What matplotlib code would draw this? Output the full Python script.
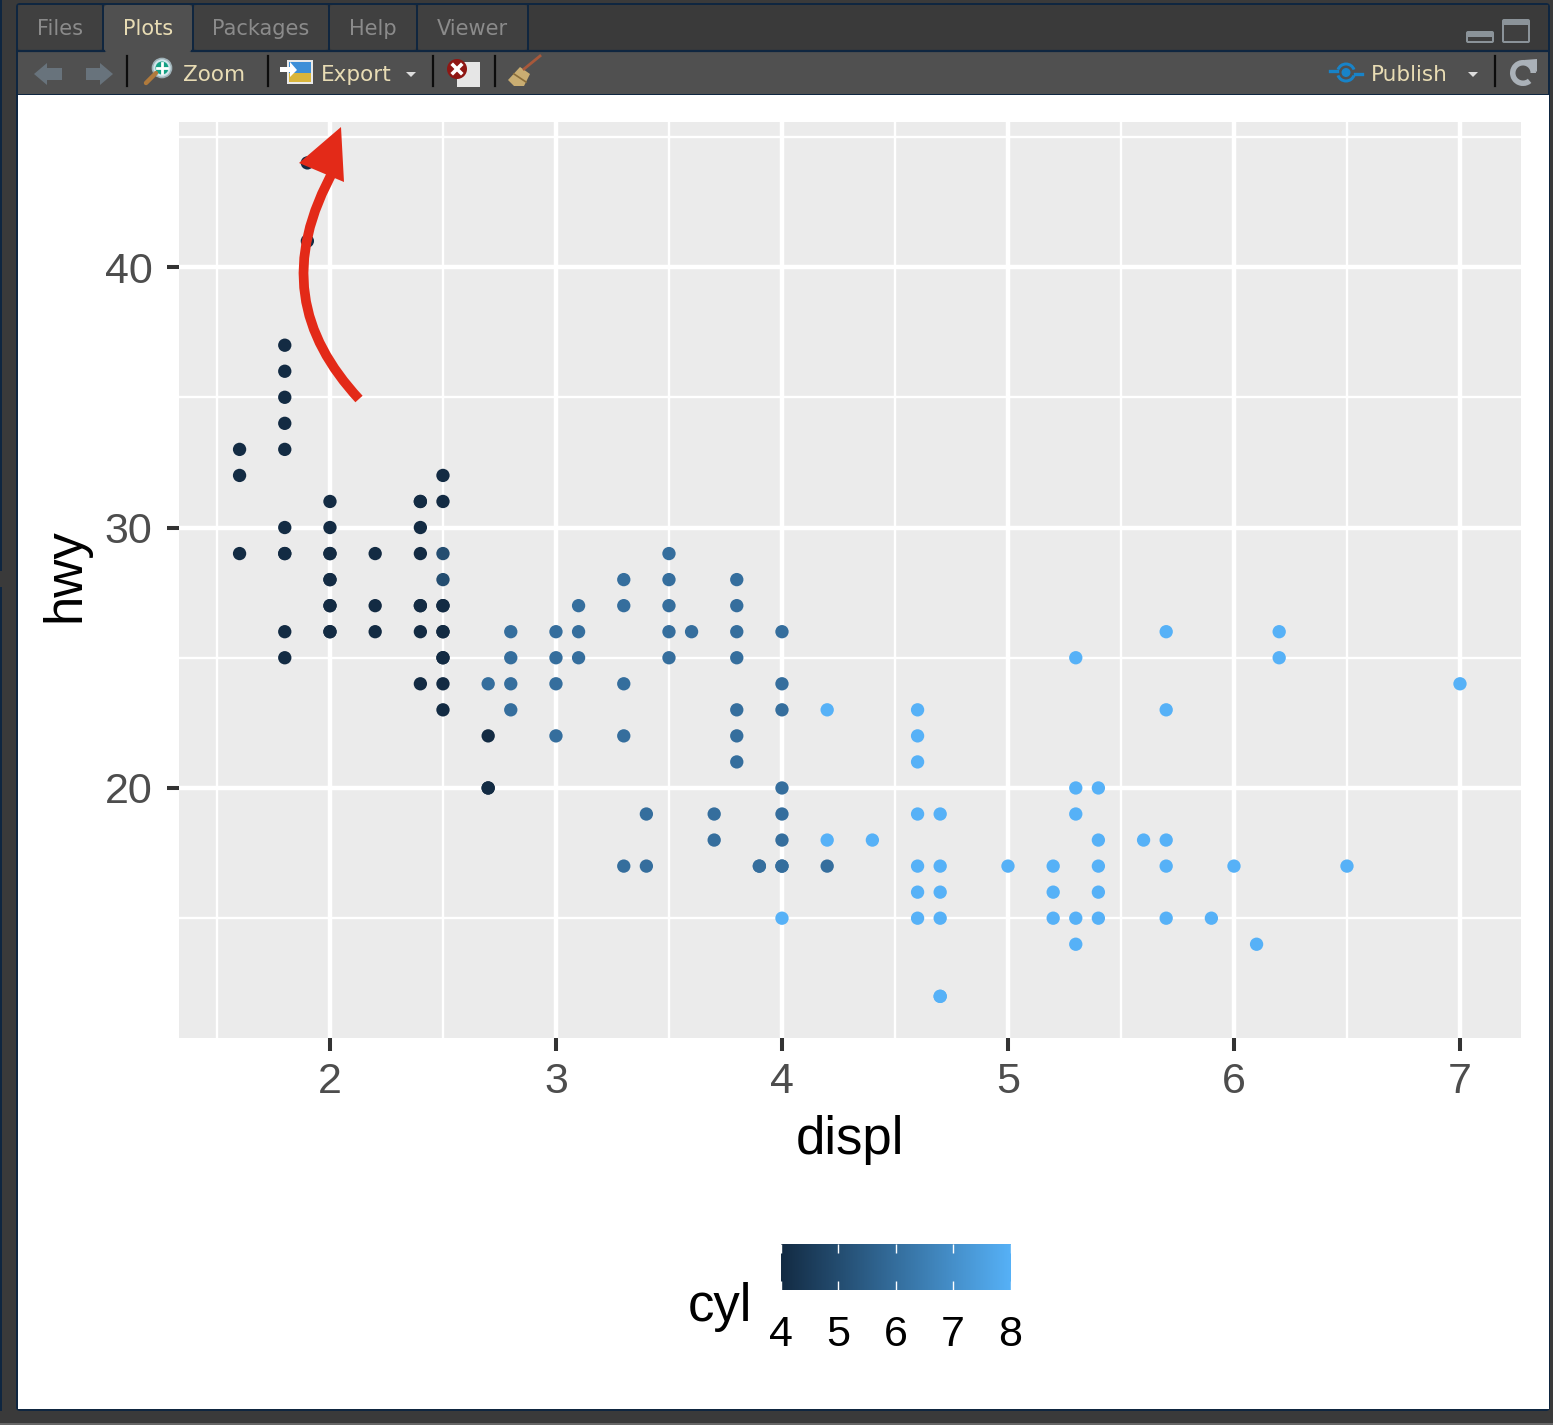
import numpy as np
import matplotlib
matplotlib.use("Agg")
import matplotlib.pyplot as plt
from matplotlib.colors import LinearSegmentedColormap
from matplotlib.patches import Rectangle, Polygon, Circle, FancyBboxPatch, PathPatch, Wedge
from matplotlib.path import Path

W, H = 1553, 1425

# points, repeated where a dot looks overplotted
displ_4 = [1.6, 1.6, 1.6, 1.8, 1.8, 1.8, 1.8, 1.8, 1.8, 1.8, 1.8, 1.8, 1.8, 1.9, 1.9,
           2.0, 2.0, 2.0, 2.0, 2.0, 2.0, 2.0, 2.0, 2.0, 2.0, 2.2, 2.2, 2.2,
           2.4, 2.4, 2.4, 2.4, 2.4, 2.4, 2.4, 2.4,
           2.5, 2.5, 2.5, 2.5, 2.5, 2.5, 2.5, 2.5, 2.5, 2.5, 2.7, 2.7, 2.7]
hwy_4 = [33, 32, 29, 37, 36, 35, 34, 33, 30, 29, 29, 26, 25, 44, 41,
         31, 30, 29, 29, 28, 28, 27, 27, 26, 26, 29, 27, 26,
         31, 31, 30, 29, 27, 27, 26, 24,
         32, 31, 27, 27, 26, 26, 25, 25, 24, 23, 22, 20, 20]
displ_5 = [2.5, 2.5]
hwy_5 = [29, 28]
displ_6 = [2.7, 2.8, 2.8, 2.8, 2.8, 3.0, 3.0, 3.0, 3.0, 3.1, 3.1, 3.1,
           3.3, 3.3, 3.3, 3.3, 3.3, 3.4, 3.4, 3.5, 3.5, 3.5, 3.5, 3.5, 3.6,
           3.7, 3.7, 3.8, 3.8, 3.8, 3.8, 3.8, 3.8, 3.8, 3.9, 3.9,
           4.0, 4.0, 4.0, 4.0, 4.0, 4.0, 4.0, 4.0, 4.2]
hwy_6 = [24, 26, 25, 24, 23, 26, 25, 24, 22, 27, 26, 25,
         28, 27, 24, 22, 17, 19, 17, 29, 28, 27, 26, 25, 26,
         19, 18, 28, 27, 26, 25, 23, 22, 21, 17, 17,
         26, 24, 23, 20, 19, 18, 17, 17, 17]
displ_8 = [4.0, 4.2, 4.2, 4.4, 4.6, 4.6, 4.6, 4.6, 4.6, 4.6, 4.6,
           4.7, 4.7, 4.7, 4.7, 4.7, 4.7, 5.0, 5.2, 5.2, 5.2,
           5.3, 5.3, 5.3, 5.3, 5.3, 5.4, 5.4, 5.4, 5.4, 5.4,
           5.6, 5.7, 5.7, 5.7, 5.7, 5.7, 5.9, 6.0, 6.1, 6.2, 6.2, 6.5, 7.0]
hwy_8 = [15, 23, 18, 18, 23, 22, 21, 19, 17, 16, 15,
         19, 17, 16, 15, 12, 12, 17, 17, 16, 15,
         25, 20, 19, 15, 14, 20, 18, 17, 16, 15,
         18, 26, 23, 18, 17, 15, 15, 17, 14, 26, 25, 17, 24]

x_ticks = [2, 3, 4, 5, 6, 7]
x_minor = [1.5, 2.5, 3.5, 4.5, 5.5, 6.5]
y_ticks = [20, 30, 40]
y_minor = [15, 25, 35, 45]
cyl_ticks = [4, 5, 6, 7, 8]

tab_names = ["Files", "Plots", "Packages", "Help", "Viewer"]
tab_edges = [(18, 102), (104, 192), (194, 328), (330, 416), (418, 527)]
separators = [127, 268, 433, 495, 1495]

NAVY = "#0f2640"
WIN = "#3a3a3a"
BAR = "#505050"
CREAM = "#e8dcb4"
GREY_TXT = "#8b8b8b"
ICON = "#68737c"

cmap = LinearSegmentedColormap.from_list("gg", ["#132B43", "#56B1F7"])

fig = plt.figure(figsize=(W / 100, H / 100), dpi=100, facecolor=WIN)
plt.rcParams["font.family"] = ["Liberation Sans", "DejaVu Sans"]


def px_axes(x0, y0, x1, y1, **kw):
    return fig.add_axes([x0 / W, 1 - y1 / H, (x1 - x0) / W, (y1 - y0) / H], **kw)


# ---------- window chrome, in pixels ----------
ui = fig.add_axes([0, 0, 1, 1], zorder=0)
ui.set_xlim(0, W)
ui.set_ylim(H, 0)
ui.axis("off")

ui.add_patch(Rectangle((0, 0), 2, 571, color=NAVY, lw=0))
ui.add_patch(Rectangle((0, 587), 2, 824, color=NAVY, lw=0))
ui.add_patch(Rectangle((0, 1423), W, 2, color="#666666", lw=0))
ui.add_patch(FancyBboxPatch((16, 3), 1534, 1408, boxstyle="round,pad=0,rounding_size=4",
                            fc=NAVY, ec="none"))
ui.add_patch(Rectangle((18, 5), 1530, 45, color=WIN, lw=0))
ui.add_patch(Rectangle((18, 52), 1530, 42, color=BAR, lw=0))
ui.add_patch(Rectangle((18, 95), 1531, 1314, color="white", lw=0))

for name, (a, b) in zip(tab_names, tab_edges):
    active = name == "Plots"
    bottom = 52 if active else 50
    ui.add_patch(FancyBboxPatch((a, 5), b - a, bottom - 5, boxstyle="round,pad=0,rounding_size=3",
                                fc=BAR if active else "#404040", ec="none"))
    ui.text((a + b) / 2, 29, name, color=CREAM if active else GREY_TXT, ha="center", va="center",
            fontsize=15, family="DejaVu Sans")
for a, b in zip(tab_edges[:-1], tab_edges[1:]):
    ui.plot([a[1] + 1, a[1] + 1], [5, 50], color=NAVY, lw=1.4)
ui.plot([527.5, 527.5], [5, 50], color=NAVY, lw=1.4)
ui.plot([18, 104], [51, 51], color=NAVY, lw=1.6)
ui.plot([192, 1548], [51, 51], color=NAVY, lw=1.6)

for sx in separators:
    ui.plot([sx, sx], [56, 86], color="#0c0c0c", lw=1.6)

# nav arrows
ui.add_patch(Polygon([(34, 74), (47, 63), (47, 68), (62, 68), (62, 80), (47, 80), (47, 85)], fc=ICON, ec="none"))
ui.add_patch(Polygon([(113, 74), (100, 63), (100, 68), (86, 68), (86, 80), (100, 80), (100, 85)], fc=ICON, ec="none"))

# zoom icon
ui.plot([146, 156], [83, 73], color="#b07a3c", lw=3.2, solid_capstyle="round")
ui.add_patch(Circle((162, 68), 9.5, fc="#cfe4ea", ec="#9fb2b8", lw=1.2))
ui.add_patch(Circle((162, 68), 6.5, fc="#14a083", ec="none"))
ui.plot([157, 167], [68, 68], color="white", lw=2)
ui.plot([162, 162], [63, 73], color="white", lw=2)
ui.text(214, 75, "Zoom", color=CREAM, ha="center", va="center", fontsize=15.5, family="DejaVu Sans")

# export icon
ui.add_patch(Rectangle((287, 60), 26, 24, fc="#e9e9e9", ec="none"))
ui.add_patch(Rectangle((289, 62), 22, 11, fc="#3d8fd8", ec="none"))
ui.add_patch(Rectangle((289, 73), 22, 9, fc="#d9b53c", ec="none"))
ui.add_patch(Polygon([(280, 67), (290, 67), (290, 62), (297, 70), (290, 77), (290, 72), (280, 72)], fc="white", ec="none"))
ui.text(356, 75, "Export", color=CREAM, ha="center", va="center", fontsize=15.5, family="DejaVu Sans")
ui.add_patch(Polygon([(406, 72), (416, 72), (411, 77)], fc="#dddddd", ec="none"))

# clear icon
ui.add_patch(Rectangle((457, 62), 23, 25, fc="#e6e6e6", ec="none"))
ui.add_patch(Circle((457, 69), 10, fc="#8f1714", ec="none"))
ui.plot([453, 461], [65, 73], color="white", lw=2.6)
ui.plot([453, 461], [73, 65], color="white", lw=2.6)

# broom icon
ui.plot([524, 540], [69, 56], color="#a8583a", lw=2)
ui.add_patch(Polygon([(508, 80), (520, 67), (530, 74), (524, 86), (514, 86)], fc="#c9ad72", ec="none"))
ui.plot([514, 526], [74, 82], color="#8a6d3a", lw=1.2)

# window buttons
ui.add_patch(FancyBboxPatch((1466, 31), 28, 12, boxstyle="round,pad=0,rounding_size=2", fc="#8b9399", ec="none"))
ui.add_patch(Rectangle((1468, 37), 24, 4, fc="#3f3f3f", ec="none"))
ui.add_patch(FancyBboxPatch((1502, 19), 28, 24, boxstyle="round,pad=0,rounding_size=2", fc="#8b9399", ec="none"))
ui.add_patch(Rectangle((1504, 25), 24, 16, fc="#3f3f3f", ec="none"))

# publish
ui.add_patch(Circle((1346, 72.5), 4.5, fc="#1883c8", ec="none"))
ui.add_patch(Wedge((1346, 72.5), 10, 200, 340, width=3, fc="#1883c8", ec="none"))
ui.add_patch(Wedge((1346, 72.5), 10, 20, 160, width=3, fc="#1883c8", ec="none"))
ui.plot([1330, 1337], [71, 71], color="#1883c8", lw=2.4)
ui.plot([1355, 1362], [74, 74], color="#1883c8", lw=2.4)
ui.text(1409, 75, "Publish", color=CREAM, ha="center", va="center", fontsize=15.5, family="DejaVu Sans")
ui.add_patch(Polygon([(1468, 72), (1478, 72), (1473, 77)], fc="#dddddd", ec="none"))

# refresh
ui.add_patch(Wedge((1523, 73), 13, 50, 360, width=5.5, fc="#aab1b8", ec="none"))
ui.add_patch(Polygon([(1524, 60), (1537, 59), (1537, 72)], fc="#aab1b8", ec="none"))

# ---------- plot ----------
ax = px_axes(179, 122, 1521, 1038, zorder=1)
ax.set_facecolor("#EBEBEB")
ax.set_xlim(1.332, 7.27)
ax.set_ylim(10.4, 45.57)
for s in ax.spines.values():
    s.set_visible(False)
ax.set_axisbelow(True)
ax.set_xticks(x_ticks)
ax.set_yticks(y_ticks)
ax.set_xticks(x_minor, minor=True)
ax.set_yticks(y_minor, minor=True)
ax.grid(which="major", color="white", lw=3.2)
ax.grid(which="minor", color="white", lw=1.7)
ax.tick_params(which="minor", length=0)
ax.tick_params(which="major", length=9, width=2.9, color="#333333", labelcolor="#4D4D4D",
               labelsize=31)
ax.tick_params(axis="x", which="major", pad=8)
ax.tick_params(axis="y", which="major", pad=10)
ax.set_xlabel("displ", fontsize=38, color="black")
ax.set_ylabel("hwy", fontsize=38, color="black")
ax.xaxis.set_label_coords(0.5, -0.084)
ax.yaxis.set_label_coords(-0.0664, 0.505)

for xs, ys, c in [(displ_4, hwy_4, 4), (displ_5, hwy_5, 5), (displ_6, hwy_6, 6), (displ_8, hwy_8, 8)]:
    ax.scatter(xs, ys, c=[c] * len(xs), cmap=cmap, vmin=4, vmax=8, s=92, linewidths=0, zorder=3)

# ---------- colour bar ----------
cb = px_axes(780.5, 1244, 1010.5, 1290, zorder=1)
cb.imshow(np.linspace(4, 8, 256).reshape(1, -1), extent=[4, 8, 0, 1], aspect="auto", cmap=cmap, vmin=4, vmax=8)
for s in cb.spines.values():
    s.set_visible(False)
cb.vlines(cyl_ticks, 0, 0.2, color="white", lw=1)
cb.vlines(cyl_ticks, 0.8, 1, color="white", lw=1)
cb.set_xlim(4, 8)
cb.set_ylim(0, 1)
cb.set_yticks([])
cb.set_xticks(cyl_ticks)
cb.tick_params(length=0, labelsize=31, labelcolor="black", pad=18)
ui.text(720, 1307, "cyl", fontsize=38, ha="center", va="center", color="black")

# ---------- red arrow drawn on top ----------
top = fig.add_axes([0, 0, 1, 1], zorder=5)
top.set_xlim(0, W)
top.set_ylim(H, 0)
top.axis("off")
curve = Path([(359, 399), (300, 335), (282, 262), (335, 168)],
             [Path.MOVETO, Path.CURVE4, Path.CURVE4, Path.CURVE4])
top.add_patch(PathPatch(curve, fc="none", ec="#E32A18", lw=7, capstyle="butt"))
top.add_patch(Polygon([(341, 127), (299, 163), (344, 182)], fc="#E32A18", ec="none"))

fig.savefig("out.png", dpi=100, facecolor=fig.get_facecolor())
